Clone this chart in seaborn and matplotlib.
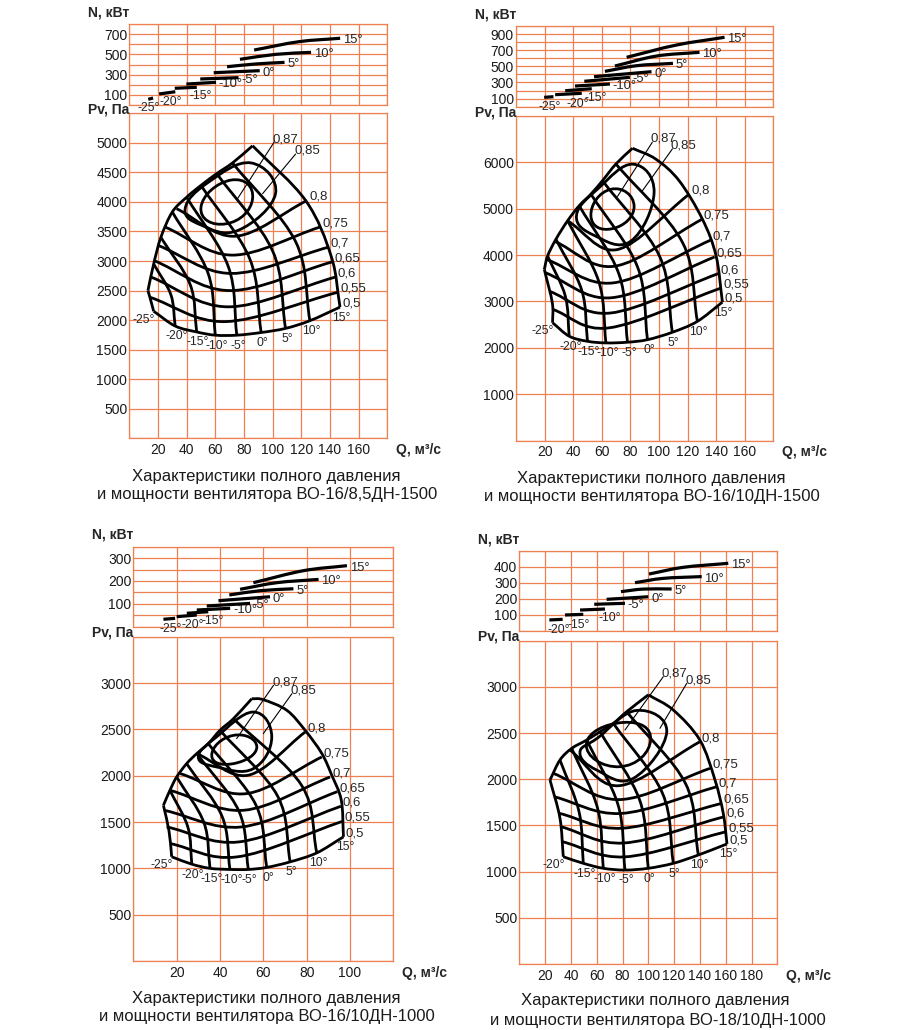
import numpy as np
import matplotlib
matplotlib.use("Agg")
import matplotlib.pyplot as plt
from matplotlib.path import Path
from matplotlib.patches import PathPatch
import seaborn as sns

# ---------------- data ----------------
# Panel 1: ВО-16/8,5ДН-1500   (Q m3/s, Pv Pa / N kW)
p1_angles = ["-25°", "-20°", "-15°", "-10°", "-5°", "0°", "5°", "10°", "15°"]
p1_angle_curves = [  # bottom -> top (stall line)
    [(17, 2150), (15, 2330), (13, 2500)],
    [(32, 1900), (29, 2430), (17, 2950)],
    [(47, 1800), (42.5, 2600), (22, 3400)],
    [(60, 1745), (55, 2790), (30, 3830)],
    [(75, 1745), (69, 2910), (40, 4080)],
    [(92, 1790), (84, 3040), (50, 4280)],
    [(109, 1860), (100, 3170), (61, 4480)],
    [(126, 1990), (116, 3330), (72, 4660)],
    [(147, 2220), (141, 3070), (123, 4025), (86, 4950)],
]
p1_eff = ["0,55", "0,6", "0,65", "0,7", "0,75", "0,8"]
p1_eff_curves = [  # left -> lowest -> right
    [(14, 2390), (67, 1975), (146, 2475)],
    [(15, 2730), (69, 2225), (144, 2730)],
    [(17, 3010), (70, 2500), (141.5, 2985)],
    [(20, 3265), (71, 2790), (139, 3235)],
    [(25, 3575), (72, 3100), (133, 3575)],
    [(33, 3885), (74, 3420), (124, 4025)],
]
p1_loop87 = [(50, 3910), (71, 4370), (86, 4055), (67.5, 3630)]
p1_loop85 = [(39, 3890), (55, 4330), (85, 4660), (102, 4140), (76, 3520), (50, 3610)]
p1_lead87 = [(75.5, 4055), (101, 5010)]
p1_lead85 = [(93, 4140), (116, 4810)]
p1_power = [
    [(13.2, 56), (16.6, 69)],
    [(20.8, 109), (32.1, 131)],
    [(31.7, 165), (47.1, 175)],
    [(39.8, 207), (60.5, 224)],
    [(49.5, 257), (76.2, 270)],
    [(58.9, 319), (91, 339)],
    [(68.2, 378), (88, 405), (108.3, 421)],
    [(77.2, 451), (102, 500), (126.8, 520)],
    [(87.1, 543), (118.2, 625), (147.1, 659)],
]
p1_title = ["Характеристики полного давления", "и мощности вентилятора ВО-16/8,5ДН-1500"]

# Panel 2: ВО-16/10ДН-1500
p2_angles = ["-25°", "-20°", "-15°", "-10°", "-5°", "0°", "5°", "10°", "15°"]
p2_angle_curves = [
    [(25.6, 2540), (25.4, 2970), (19.8, 3690)],
    [(37.2, 2250), (34.5, 3115), (22.1, 3980)],
    [(50, 2140), (46, 3240), (27.9, 4340)],
    [(62.9, 2105), (58, 3420), (36.1, 4740)],
    [(78, 2120), (72, 3590), (44.2, 5065)],
    [(92, 2175), (85, 3745), (52.4, 5315)],
    [(109.4, 2335), (100.5, 3970), (60.5, 5605)],
    [(126.9, 2570), (116.5, 4270), (69.9, 5965)],
    [(144.4, 2985), (140, 3980), (130.4, 4775), (114.1, 5605), (97.8, 6070), (81.5, 6304)],
]
p2_eff = ["0,55", "0,6", "0,65", "0,7", "0,75", "0,8"]
p2_eff_curves = [
    [(25.5, 2830), (65, 2430), (143.5, 3290)],
    [(23.3, 3220), (66, 2750), (141.5, 3600)],
    [(20.5, 3620), (67, 3080), (139, 3960)],
    [(21, 3910), (68, 3400), (136, 4320)],
    [(26.8, 4300), (69, 3760), (130, 4770)],
    [(36, 4740), (71, 4120), (121, 5310)],
]
p2_loop87 = [(52.4, 4850), (66.4, 5420), (82.6, 5060), (67.5, 4570)]
p2_loop85 = [(42.3, 4850), (58, 5450), (82, 5960), (96.6, 5350), (80.3, 4300), (55, 4420)]
p2_lead87 = [(71, 5265), (95.4, 6435)]
p2_lead85 = [(88.5, 5390), (109.4, 6290)]
p2_power = [
    [(19.7, 116), (26.2, 124)],
    [(27.4, 149), (46, 166)],
    [(34.4, 198), (53, 223)],
    [(41.3, 256), (65.7, 281)],
    [(47.8, 315), (79.7, 364)],
    [(54.6, 372), (94.8, 434)],
    [(62.2, 438), (84.3, 508), (109.8, 537)],
    [(69.2, 504), (98.3, 628), (128.4, 674)],
    [(77.4, 612), (112.2, 764), (145.9, 860)],
]
p2_title = ["Характеристики полного давления", "и мощности вентилятора ВО-16/10ДН-1500"]

# Panel 3: ВО-16/10ДН-1000
p3_angles = ["-25°", "-20°", "-15°", "-10°", "-5°", "0°", "5°", "10°", "15°"]
p3_angle_curves = [
    [(17.7, 1125), (16.5, 1400), (13.9, 1680)],
    [(27, 1045), (25.2, 1444), (16.9, 1842)],
    [(35.4, 1000), (32.6, 1493), (20, 1986)],
    [(44.6, 988), (41, 1559), (24.6, 2130)],
    [(53.1, 988), (48.8, 1614), (29.3, 2239)],
    [(61.6, 1010), (56.7, 1678), (34.6, 2346)],
    [(72.4, 1070), (66.6, 1780), (40, 2490)],
    [(84.7, 1167), (77.8, 1891), (46.2, 2615)],
    [(97, 1340), (96, 1735), (91.6, 2005), (87, 2240), (79.3, 2490), (70.9, 2705), (60, 2820), (54.7, 2831)],
]
p3_eff = ["0,55", "0,6", "0,65", "0,7", "0,75", "0,8"]
p3_eff_curves = [
    [(16.9, 1268), (48, 1124), (96.6, 1508)],
    [(15.4, 1447), (49, 1286), (95.8, 1670)],
    [(14.2, 1627), (50, 1447), (94.2, 1828)],
    [(16.9, 1842), (51, 1627), (90.8, 1986)],
    [(21.6, 2023), (52, 1806), (87, 2202)],
    [(29.3, 2239), (53, 2005), (79.3, 2471)],
]
p3_loop87 = [(36.2, 2220), (46.2, 2435), (57, 2310), (46.2, 2130)]
p3_loop85 = [(30, 2202), (38.5, 2420), (55.4, 2687), (63.9, 2418), (55.4, 2076), (38.5, 2094)]
p3_lead87 = [(47.7, 2400), (64.7, 2975)]
p3_lead85 = [(60, 2454), (73.2, 2885)]
p3_power = [
    [(13.9, 32.4), (19.3, 36.7)],
    [(20, 43.8), (29.3, 51.2)],
    [(24.7, 58.6), (34.6, 65.6)],
    [(29.3, 73), (44.7, 80.4)],
    [(33.9, 90.6), (53.9, 102)],
    [(39.3, 113.8), (63.1, 131)],
    [(44.3, 138.7), (58.5, 157.5), (73.9, 166)],
    [(49.3, 163.6), (66.2, 192.5), (85.5, 207)],
    [(55.4, 192.5), (78.5, 245), (98.6, 267)],
]
p3_title = ["Характеристики полного давления", "и мощности вентилятора ВО-16/10ДН-1000"]

# Panel 4: ВО-18/10ДН-1000
p4_angles = ["-20°", "-15°", "-10°", "-5°", "0°", "5°", "10°", "15°"]
p4_angle_curves = [
    [(34.1, 1161), (31.5, 1580), (23.8, 1992)],
    [(49.6, 1090), (46.3, 1649), (31.5, 2208)],
    [(65.1, 1036), (60.7, 1685), (40.6, 2334)],
    [(81.9, 1017), (76.6, 1720), (52.2, 2424)],
    [(100, 1036), (93.3, 1775), (62.6, 2515)],
    [(119.4, 1090), (111, 1848), (72.9, 2605)],
    [(138.8, 1180), (128.8, 1955), (83.2, 2731)],
    [(161, 1300), (158.1, 1631), (151.7, 1992), (140, 2424), (119.4, 2749), (100, 2914)],
]
p4_eff = ["0,55", "0,6", "0,65", "0,7", "0,75", "0,8"]
p4_eff_curves = [
    [(33.3, 1324), (82, 1160), (160.2, 1432)],
    [(32.3, 1486), (81, 1310), (158.7, 1594)],
    [(31, 1631), (80, 1470), (156.9, 1739)],
    [(27, 1811), (79, 1630), (153, 1919)],
    [(26.4, 2064), (78, 1780), (147.8, 2118)],
    [(39.3, 2316), (77, 1930), (140, 2406)],
]
p4_loop87 = [(52, 2380), (80.7, 2615), (101.8, 2424), (78, 2136)]
p4_loop85 = [(47, 2290), (61, 2450), (91, 2745), (114.3, 2514), (88.4, 2010), (60, 2100)]
p4_lead87 = [(81.9, 2533), (111.6, 3110)]
p4_lead85 = [(109, 2551), (129.8, 3038)]
p4_power = [
    [(23.3, 69), (33.6, 73)],
    [(35.4, 100), (49.6, 104)],
    [(47.1, 131), (66.4, 137.5)],
    [(58.1, 167), (81.9, 173)],
    [(67.7, 198), (100, 214)],
    [(78.8, 246), (96.1, 262), (118.1, 262.5)],
    [(89.7, 302), (111.6, 329), (141.4, 340)],
    [(100.5, 356), (127.1, 398), (162, 423)],
]
p4_title = ["Характеристики полного давления", "и мощности вентилятора ВО-18/10ДН-1000"]

# ---------------- layout ----------------
ORANGE = "#EE8052"
W, H = 910, 1030

sns.set_theme(style="whitegrid", rc={
    "grid.color": ORANGE, "axes.edgecolor": ORANGE,
    "grid.linewidth": 0.9, "axes.linewidth": 0.9,
})
plt.rcParams["font.family"] = ["Liberation Sans", "DejaVu Sans"]

panels = [
    dict(top=(129.3, 24, 387.3, 105), bot=(129.3, 113.3, 387.3, 438.3), qmax=180,
         nmax=800, nstep=100, nlab=[100, 300, 500, 700],
         pmax=5500, pstep=500, plab=list(range(500, 5001, 500)), qlab=list(range(20, 161, 20)),
         angles=p1_angles, curves=p1_angle_curves, eff=p1_eff, eff_curves=p1_eff_curves,
         loop87=p1_loop87, loop85=p1_loop85, lead87=p1_lead87, lead85=p1_lead85,
         power=p1_power, title=p1_title, tpos=[(266, 476), (267, 494)]),
    dict(top=(516, 26, 773.3, 106.7), bot=(516, 116, 773.3, 440.5), qmax=180,
         nmax=1000, nstep=100, nlab=[100, 300, 500, 700, 900],
         pmax=7000, pstep=1000, plab=list(range(1000, 6001, 1000)), qlab=list(range(20, 161, 20)),
         angles=p2_angles, curves=p2_angle_curves, eff=p2_eff, eff_curves=p2_eff_curves,
         loop87=p2_loop87, loop85=p2_loop85, lead87=p2_lead87, lead85=p2_lead85,
         power=p2_power, title=p2_title, tpos=[(651, 479), (652, 497)]),
    dict(top=(133.3, 546.7, 393.3, 626.7), bot=(133.3, 636.7, 393.3, 961), qmax=120,
         nmax=350, nstep=50, nlab=[100, 200, 300],
         pmax=3500, pstep=500, plab=list(range(500, 3001, 500)), qlab=list(range(20, 101, 20)),
         angles=p3_angles, curves=p3_angle_curves, eff=p3_eff, eff_curves=p3_eff_curves,
         loop87=p3_loop87, loop85=p3_loop85, lead87=p3_lead87, lead85=p3_lead85,
         power=p3_power, title=p3_title, tpos=[(266, 999), (267, 1017)]),
    dict(top=(519.3, 551, 777.3, 631), bot=(519.3, 640.7, 777.3, 964), qmax=200,
         nmax=500, nstep=100, nlab=[100, 200, 300, 400],
         pmax=3500, pstep=500, plab=list(range(500, 3001, 500)), qlab=list(range(20, 181, 20)),
         angles=p4_angles, curves=p4_angle_curves, eff=p4_eff, eff_curves=p4_eff_curves,
         loop87=p4_loop87, loop85=p4_loop85, lead87=p4_lead87, lead85=p4_lead85,
         power=p4_power, title=p4_title, tpos=[(655, 1001), (658, 1020)]),
]

fig = plt.figure(figsize=(W / 100, H / 100), dpi=100)


def add_axes_px(box):
    x0, y0, x1, y1 = box
    return fig.add_axes([x0 / W, 1 - y1 / H, (x1 - x0) / W, (y1 - y0) / H])


def smooth_path(pts, closed=False):
    # Catmull-Rom through the read points, drawn as cubic Bezier segments
    p = np.asarray(pts, dtype=float)
    n = len(p)
    verts, codes = [p[0]], [Path.MOVETO]
    if closed:
        c = (4 / 3) * np.tan(np.pi / (2 * n)) / (2 * np.sin(2 * np.pi / n))
        for i in range(n):
            a, b = p[i], p[(i + 1) % n]
            ta = (p[(i + 1) % n] - p[i - 1]) * c
            tb = (p[(i + 2) % n] - p[i]) * c
            verts += [a + ta, b - tb, b]
            codes += [Path.CURVE4] * 3
        return Path(verts, codes)
    if n == 2:
        return Path(p, [Path.MOVETO, Path.LINETO])
    tang = np.empty_like(p)
    tang[0] = p[1] - p[0]
    tang[-1] = p[-1] - p[-2]
    tang[1:-1] = (p[2:] - p[:-2]) / 2
    for i in range(n - 1):
        verts += [p[i] + tang[i] / 3, p[i + 1] - tang[i + 1] / 3, p[i + 1]]
        codes += [Path.CURVE4] * 3
    return Path(verts, codes)


def curve(ax, pts, lw=2.0, closed=False):
    ax.add_patch(PathPatch(smooth_path(pts, closed), fill=False, lw=lw, ec="black",
                           capstyle="butt", joinstyle="round", zorder=3))


def style_axes(ax, qmax, ymax, ystep, ylab, qlab):
    ax.set_xlim(0, qmax)
    ax.set_ylim(0, ymax)
    xt = np.arange(0, qmax + 1, 20)
    yt = np.arange(0, ymax + 1, ystep)
    ax.set_xticks(xt)
    ax.set_yticks(yt)
    ax.set_xticklabels([str(v) if v in qlab else "" for v in xt])
    ax.set_yticklabels([str(v) if v in ylab else "" for v in yt])
    ax.tick_params(length=0, labelsize=10, labelcolor="#1a1a1a")
    ax.tick_params(axis="y", pad=1.5)
    ax.tick_params(axis="x", pad=3.5)
    ax.grid(True, color=ORANGE, lw=0.9)
    ax.set_axisbelow(True)
    for s in ax.spines.values():
        s.set_visible(True)
        s.set_color(ORANGE)
        s.set_linewidth(0.9)


FS = 9.5      # efficiency labels
FSA = 8.8     # blade-angle labels (packed tightly, as in the original)
for pn in panels:
    # ---- power chart ----
    at = add_axes_px(pn["top"])
    style_axes(at, pn["qmax"], pn["nmax"], pn["nstep"], pn["nlab"], [])
    at.annotate("N, кВт", xy=(0, 1), xycoords="axes fraction", xytext=(0, 8.6),
                textcoords="offset points", ha="right", va="center",
                fontsize=10, fontweight="bold")
    for i, (lbl, pts) in enumerate(zip(pn["angles"], pn["power"])):
        curve(at, pts, lw=2.3)
        if i < 2:
            at.annotate(lbl, pts[-1], xytext=(-3, -7.5), textcoords="offset points",
                        ha="center", va="center", fontsize=FSA)
        elif i == 2:
            at.annotate(lbl, pts[-1], xytext=(-5, -6.5), textcoords="offset points",
                        ha="left", va="center", fontsize=FSA)
        else:
            at.annotate(lbl, pts[-1], xytext=(2, -1.5), textcoords="offset points",
                        ha="left", va="center", fontsize=FSA + 0.6)

    # ---- pressure chart ----
    ab = add_axes_px(pn["bot"])
    style_axes(ab, pn["qmax"], pn["pmax"], pn["pstep"], pn["plab"], pn["qlab"])
    ab.annotate("Pv, Па", xy=(0, 1), xycoords="axes fraction", xytext=(0, 2.8),
                textcoords="offset points", ha="right", va="center",
                fontsize=10, fontweight="bold")
    ab.annotate("Q, м³/с", xy=(1, 0), xycoords="axes fraction", xytext=(6, -8.6),
                textcoords="offset points", ha="left", va="center",
                fontsize=10, fontweight="bold")

    curves = pn["curves"]
    for c in curves:
        curve(ab, c)
    curve(ab, [c[-1] for c in curves])   # stall line through the curve tops
    curve(ab, [c[0] for c in curves])    # 0,5 efficiency line through the bottoms
    for c in pn["eff_curves"]:
        curve(ab, c)
    curve(ab, pn["loop87"], closed=True)
    curve(ab, pn["loop85"], closed=True)

    for lead, lbl in [(pn["lead87"], "0,87"), (pn["lead85"], "0,85")]:
        sns.lineplot(x=[lead[0][0], lead[1][0]], y=[lead[0][1], lead[1][1]], ax=ab,
                     color="black", lw=0.8, legend=False, zorder=3)
        ab.annotate(lbl, lead[1], xytext=(-1, -2), textcoords="offset points",
                    ha="left", va="bottom", fontsize=FS)

    for i, (lbl, c) in enumerate(zip(pn["angles"], curves)):
        off = (-7, -6) if i == 0 else (1, -7.5)
        ab.annotate(lbl, c[0], xytext=off, textcoords="offset points",
                    ha="center", va="center", fontsize=FSA)
    ends = [curves[-1][0]] + [c[-1] for c in pn["eff_curves"]]
    for lbl, e in zip(["0,5"] + pn["eff"], ends):
        ab.annotate(lbl, e, xytext=(1.5, 2.5), textcoords="offset points",
                    ha="left", va="center", fontsize=FS)

    for line, (cx, cy) in zip(pn["title"], pn["tpos"]):
        fig.text(cx / W, 1 - cy / H, line, ha="center", va="center", fontsize=12,
                 color="#1a1a1a")

fig.savefig("out.png", dpi=100)
